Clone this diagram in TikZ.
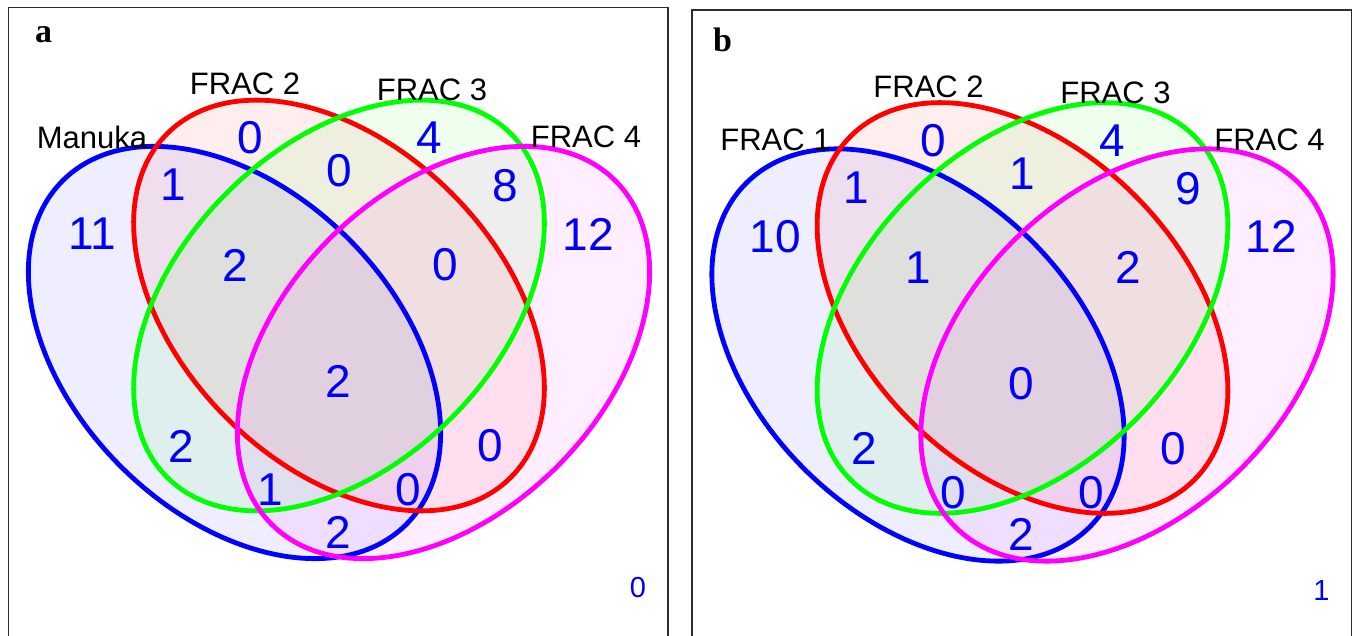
\documentclass[tikz,border=0pt]{standalone}
\usepackage{fontspec}
\setmainfont{Liberation Sans}
\newfontfamily\panelfont{Liberation Serif}
\definecolor{vblue}{RGB}{0,0,255}
\definecolor{vred}{RGB}{255,0,0}
\definecolor{vgreen}{RGB}{0,255,0}
\definecolor{vmag}{RGB}{255,0,255}
\definecolor{numblue}{RGB}{0,0,245}
\definecolor{framegray}{RGB}{45,45,45}
\tikzset{
  setline/.style={line width=4.8pt},
  setfill/.style={fill opacity=0.065},
  numlab/.style={text=numblue, inner sep=0pt, font=\fontsize{46}{46}\selectfont},
  smallnum/.style={text=numblue, inner sep=0pt, font=\fontsize{29}{29}\selectfont},
  setlab/.style={text=black, inner sep=0pt, font=\fontsize{31}{31}\selectfont},
  panellab/.style={text=black, inner sep=0pt, anchor=base west, font=\fontsize{34}{34}\selectfont\panelfont\bfseries},
  panelframe/.style={draw=framegray, line width=1.5pt},
}
\newcommand{\vennshapes}{%
  \fill[vblue,setfill,rotate around={-45:(234.5,352.5)}] (234.5,352.5) ellipse [x radius=243,y radius=161];
  \fill[vred,setfill,rotate around={-45:(339,305.5)}] (339,305.5) ellipse [x radius=243,y radius=159];
  \fill[vgreen,setfill,rotate around={45:(339,305.5)}] (339,305.5) ellipse [x radius=243,y radius=159];
  \fill[vmag,setfill,rotate around={45:(443.5,352.5)}] (443.5,352.5) ellipse [x radius=243,y radius=161];
  \draw[vblue,setline,rotate around={-45:(234.5,352.5)}] (234.5,352.5) ellipse [x radius=243,y radius=161];
  \draw[vred,setline,rotate around={-45:(339,305.5)}] (339,305.5) ellipse [x radius=243,y radius=159];
  \draw[vgreen,setline,rotate around={45:(339,305.5)}] (339,305.5) ellipse [x radius=243,y radius=159];
  \draw[vmag,setline,rotate around={45:(443.5,352.5)}] (443.5,352.5) ellipse [x radius=243,y radius=161];
  \draw[panelframe] (8.5,650) -- (8.5,7.5) -- (668,7.5) -- (668,650);
}
\begin{document}
\begin{tikzpicture}[x=1pt,y=-1pt]
\useasboundingbox (0,0) rectangle (1354,636);
\clip (0,0) rectangle (1354,636);
\fill[white] (0,0) rectangle (1354,636);
% ---------------- panel a ----------------
\begin{scope}
  \vennshapes
  \node[panellab] (a-letter) at (35,43) {a};
  \node[setlab] (a-s1) at (92,137) {Manuka};
  \node[setlab] (a-s2) at (245,84) {FRAC 2};
  \node[setlab] (a-s3) at (432,90) {FRAC 3};
  \node[setlab] (a-s4) at (586,137) {FRAC 4};
  \node[numlab] (a-b) at (92,234) {11};
  \node[numlab] (a-r) at (250,138) {0};
  \node[numlab] (a-g) at (429,138) {4};
  \node[numlab] (a-m) at (588,234) {12};
  \node[numlab] (a-br) at (173,185) {1};
  \node[numlab] (a-rg) at (339,171) {0};
  \node[numlab] (a-gm) at (505,186) {8};
  \node[numlab] (a-brg) at (235,265) {2};
  \node[numlab] (a-rgm) at (445,265) {0};
  \node[numlab] (a-all) at (338,381) {2};
  \node[numlab] (a-bg) at (181,446) {2};
  \node[numlab] (a-rm) at (490,446) {0};
  \node[numlab] (a-bgm) at (270,490) {1};
  \node[numlab] (a-brm) at (408,490) {0};
  \node[numlab] (a-bm) at (338,532) {2};
  \node[smallnum] (a-out) at (638,588) {0};
\end{scope}
% ---------------- panel b ----------------
\begin{scope}[shift={(683.5,2.5)}]
  \vennshapes
  \node[panellab] (b-letter) at (29.5,49.5) {b};
  \node[setlab] (b-s1) at (92,137) {FRAC 1};
  \node[setlab] (b-s2) at (245,84) {FRAC 2};
  \node[setlab] (b-s3) at (432,90) {FRAC 3};
  \node[setlab] (b-s4) at (586,137) {FRAC 4};
  \node[numlab] (b-b) at (92,234) {10};
  \node[numlab] (b-r) at (250,138) {0};
  \node[numlab] (b-g) at (429,138) {4};
  \node[numlab] (b-m) at (588,234) {12};
  \node[numlab] (b-br) at (173,185) {1};
  \node[numlab] (b-rg) at (339,171) {1};
  \node[numlab] (b-gm) at (505,186) {9};
  \node[numlab] (b-brg) at (235,265) {1};
  \node[numlab] (b-rgm) at (445,265) {2};
  \node[numlab] (b-all) at (338,381) {0};
  \node[numlab] (b-bg) at (181,446) {2};
  \node[numlab] (b-rm) at (490,446) {0};
  \node[numlab] (b-bgm) at (270,490) {0};
  \node[numlab] (b-brm) at (408,490) {0};
  \node[numlab] (b-bm) at (338,532) {2};
  \node[smallnum] (b-out) at (638,588) {1};
\end{scope}
\end{tikzpicture}
\end{document}
